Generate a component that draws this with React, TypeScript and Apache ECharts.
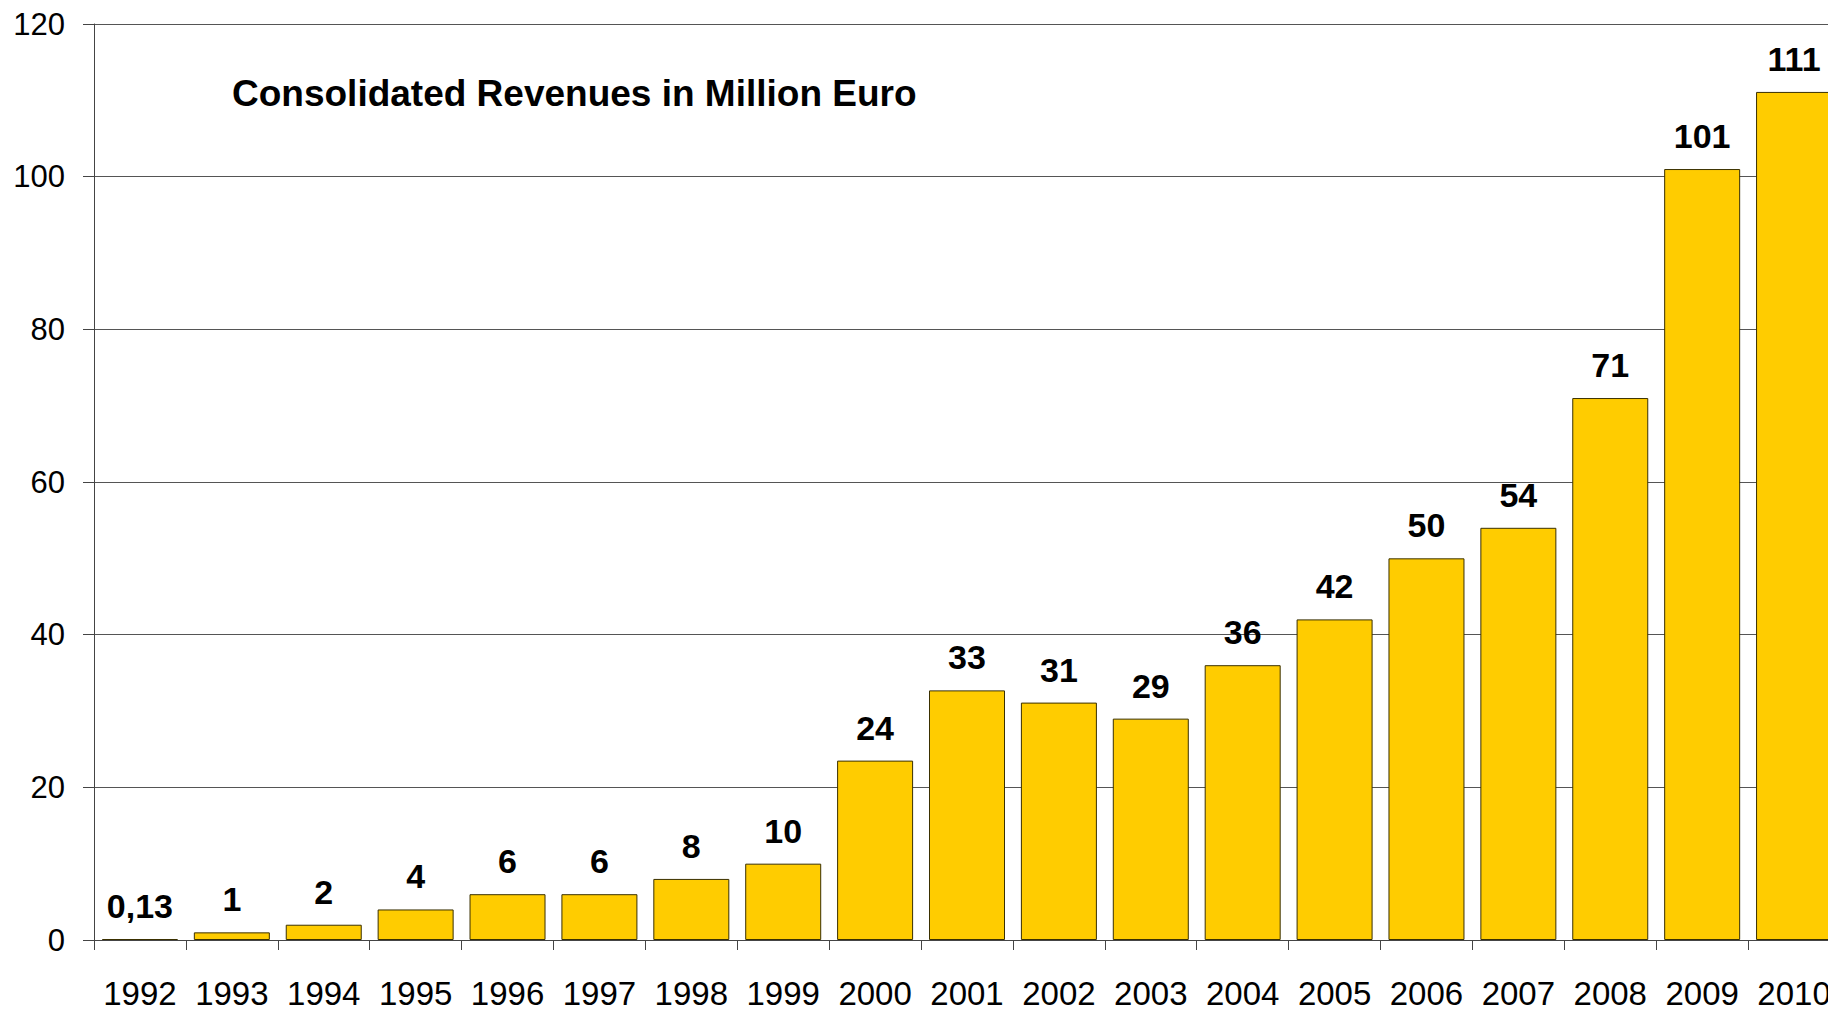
import React, { useEffect, useRef } from "react";
import * as echarts from "echarts";

const years = ["1992","1993","1994","1995","1996","1997","1998","1999","2000","2001","2002","2003","2004","2005","2006","2007","2008","2009","2010"];
const revenues = [0.13, 1, 2, 4, 6, 6, 8, 10, 23.5, 32.7, 31.1, 29.0, 36, 42, 50, 54, 71, 101, 111.1];
const valueLabels = ["0,13","1","2","4","6","6","8","10","24","33","31","29","36","42","50","54","71","101","111"];
const titleText = "Consolidated Revenues in Million Euro";

const FONT = "'Liberation Sans', Arial, Helvetica, sans-serif";

export default function App() {
  const ref = useRef<HTMLDivElement>(null);
  useEffect(() => {
    if (!ref.current) return;
    const chart = echarts.init(ref.current, undefined, { renderer: "svg" });
    chart.setOption({
      animation: false,
      backgroundColor: "#ffffff",
      title: {
        text: titleText,
        left: 227,
        top: 70,
        textStyle: { fontFamily: FONT, fontSize: 37, fontWeight: "bold", color: "#000" },
      },
      grid: { left: 94, top: 24, width: 1746, height: 916 },
      xAxis: {
        type: "category",
        data: years,
        axisLine: { show: true, lineStyle: { color: "#444", width: 1 } },
        axisTick: { show: true, length: 10, alignWithLabel: false, lineStyle: { color: "#444" } },
        axisLabel: { fontFamily: FONT, fontSize: 33, lineHeight: 28, color: "#000", margin: 39, interval: 0 },
        splitLine: { show: false },
      },
      yAxis: {
        type: "value",
        min: 0,
        max: 120,
        interval: 20,
        axisLine: { show: true, lineStyle: { color: "#444", width: 1 } },
        axisTick: { show: true, length: 11, lineStyle: { color: "#444" } },
        axisLabel: { fontFamily: FONT, fontSize: 31, color: "#000", margin: 29 },
        splitLine: { show: true, lineStyle: { color: "#555", width: 1 } },
      },
      series: [
        {
          type: "bar",
          data: revenues,
          barWidth: 76,
          itemStyle: { color: "#FFCC00", borderColor: "#3a3000", borderWidth: 1 },
          label: {
            show: true,
            position: "top",
            distance: 16,
            fontFamily: FONT,
            fontSize: 34,
            fontWeight: "bold",
            color: "#000",
            formatter: (p: any) => valueLabels[p.dataIndex],
          },
        },
      ],
    });
    return () => chart.dispose();
  }, []);
  return (
    <div style={{ position: "fixed", left: 0, top: 0, width: 1828, height: 1010, overflow: "hidden", background: "#fff" }}>
      <div ref={ref} style={{ width: 1860, height: 1010 }} />
    </div>
  );
}
